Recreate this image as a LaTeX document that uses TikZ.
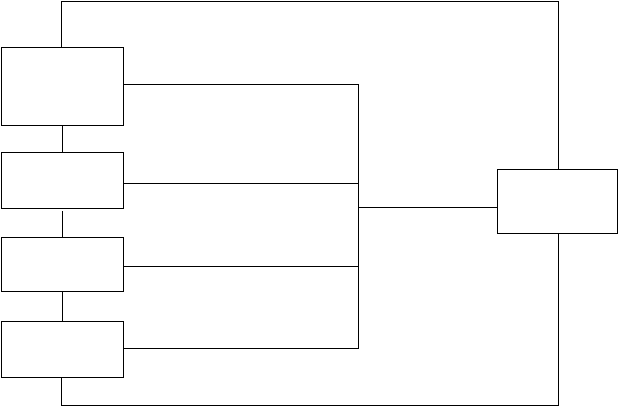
\documentclass[tikz,border=0pt]{standalone}
\begin{document}
\begin{tikzpicture}[x=1pt,y=-1pt,line width=1pt,
  blk/.style={draw,inner sep=0pt,outer sep=0pt}]
\useasboundingbox (0,0) rectangle (619,407);
\node[blk,minimum width=122pt,minimum height=78pt] (b1) at (62.5,86.5) {};
\node[blk,minimum width=122pt,minimum height=55.6pt] (b2) at (62.5,180.5) {};
\node[blk,minimum width=122pt,minimum height=54pt] (b3) at (62.5,264.3) {};
\node[blk,minimum width=122pt,minimum height=56pt] (b4) at (62.5,349.7) {};
\node[blk,minimum width=120.4pt,minimum height=64pt] (r) at (557.5,201.3) {};
\coordinate (bus1) at (358.7,84.3);
\coordinate (bus2) at (358.7,183.3);
\coordinate (busm) at (358.7,207.7);
\coordinate (bus3) at (358.7,266.3);
\coordinate (bus4) at (358.7,348.5);
\coordinate (tl) at (61.5,1.5);
\coordinate (tr) at (558.2,1.5);
\coordinate (bl) at (61.5,405);
\coordinate (br) at (558.2,405);
% chain
\draw (b1.south) -- (b2.north);
\draw[shorten <=3pt] (b2.south) -- (b3.north);
\draw (b3.south) -- (b4.north);
% bus
\draw (bus1) -- (bus4);
\draw (b1.east |- bus1) -- (bus1);
\draw (b2.east |- bus2) -- (bus2);
\draw (b3.east |- bus3) -- (bus3);
\draw (b4.east |- bus4) -- ([xshift=-1pt]bus4);
\draw (busm) -- (r.west |- busm);
% feedback loops
\draw (b1.north -| tl) -- (tl) -- (tr) -- (r.north -| tr);
\draw (b4.south -| bl) -- (bl) -- (br) -- (r.south -| br);
\end{tikzpicture}
\end{document}
